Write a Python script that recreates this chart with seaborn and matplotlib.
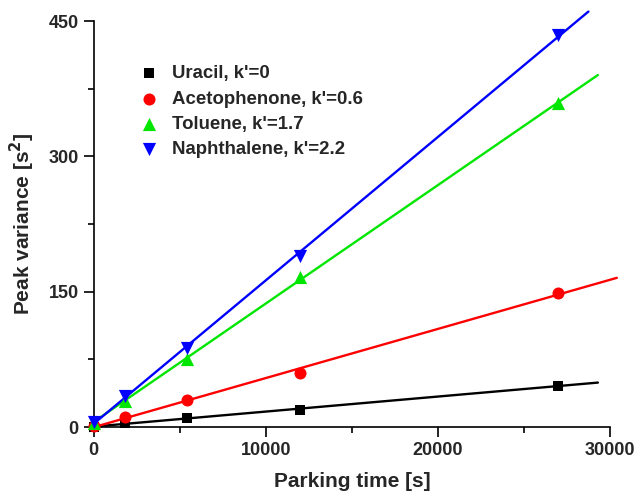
import numpy as np
import pandas as pd
import matplotlib
matplotlib.use("Agg")
import matplotlib.pyplot as plt
from matplotlib.ticker import MultipleLocator
import seaborn as sns

# Measured peak variance versus parking time
parking_time = [0, 1800, 5400, 12000, 27000]
uracil = [0.5, 4, 10, 19, 46]
acetophenone = [1, 11, 30, 60, 149]
toluene = [5, 29, 76, 166, 359]
naphthalene = [6, 34, 88, 190, 435]

labels = ["Uracil, k'=0", "Acetophenone, k'=0.6", "Toluene, k'=1.7", "Naphthalene, k'=2.2"]
series = [uracil, acetophenone, toluene, naphthalene]
colors = ["#000000", "#ff0000", "#00e600", "#0000ff"]
markers = ["s", "o", "^", "v"]
marker_sizes = [55, 75, 90, 90]
# x extent of each fitted line
fit_end = [29300, 30400, 29300, 28750]

sns.set_theme(style="ticks")
plt.rcParams["font.family"] = ["Liberation Sans", "DejaVu Sans"]
plt.rcParams["font.weight"] = "bold"

fig = plt.figure(figsize=(6.38, 4.92), dpi=100)
ax = fig.add_axes([0.147, 0.132, 0.809, 0.825])

rows = []
for lab, vals in zip(labels, series):
    for t, v in zip(parking_time, vals):
        rows.append({"time": t, "variance": v, "compound": lab})
df = pd.DataFrame(rows)

# Linear fits
for lab, vals, col, xe in zip(labels, series, colors, fit_end):
    slope, icpt = np.polyfit(parking_time, vals, 1)
    xs = np.array([0, xe])
    sns.lineplot(x=xs, y=slope * xs + icpt, color=col, lw=1.7, ax=ax,
                 legend=False)
for ln in ax.lines:
    ln.set_clip_on(False)

for lab, col, mk, ms in zip(labels, colors, markers, marker_sizes):
    sub = df[df["compound"] == lab]
    sns.scatterplot(data=sub, x="time", y="variance", color=col, marker=mk,
                    s=ms, edgecolor=col, linewidth=0, label=lab, ax=ax,
                    clip_on=False, zorder=3)

ax.set_xlim(0, 30000)
ax.set_ylim(0, 450)
ax.xaxis.set_major_locator(MultipleLocator(10000))
ax.xaxis.set_minor_locator(MultipleLocator(5000))
ax.yaxis.set_major_locator(MultipleLocator(150))
ax.yaxis.set_minor_locator(MultipleLocator(75))
ax.tick_params(which="major", direction="out", length=7, width=1.2,
               labelsize=13, color="black", pad=4)
ax.tick_params(which="minor", direction="out", length=4, width=1.2, color="black")
for lbl in ax.get_xticklabels() + ax.get_yticklabels():
    lbl.set_fontweight("bold")

sns.despine(ax=ax)
for sp in ("left", "bottom"):
    ax.spines[sp].set_linewidth(1.2)
    ax.spines[sp].set_color("black")

ax.set_xlabel("Parking time [s]", fontsize=15, fontweight="bold", labelpad=9)
ax.set_ylabel("Peak variance [s$^\\mathbf{2}$]", fontsize=15, fontweight="bold",
              labelpad=8)

leg = ax.legend(loc="upper left", bbox_to_anchor=(0.07, 0.91), frameon=False,
                fontsize=13.4, handletextpad=0.65, labelspacing=0.45,
                borderaxespad=0, handlelength=1.2)
for t in leg.get_texts():
    t.set_fontweight("bold")

fig.savefig("out.png", dpi=100)
